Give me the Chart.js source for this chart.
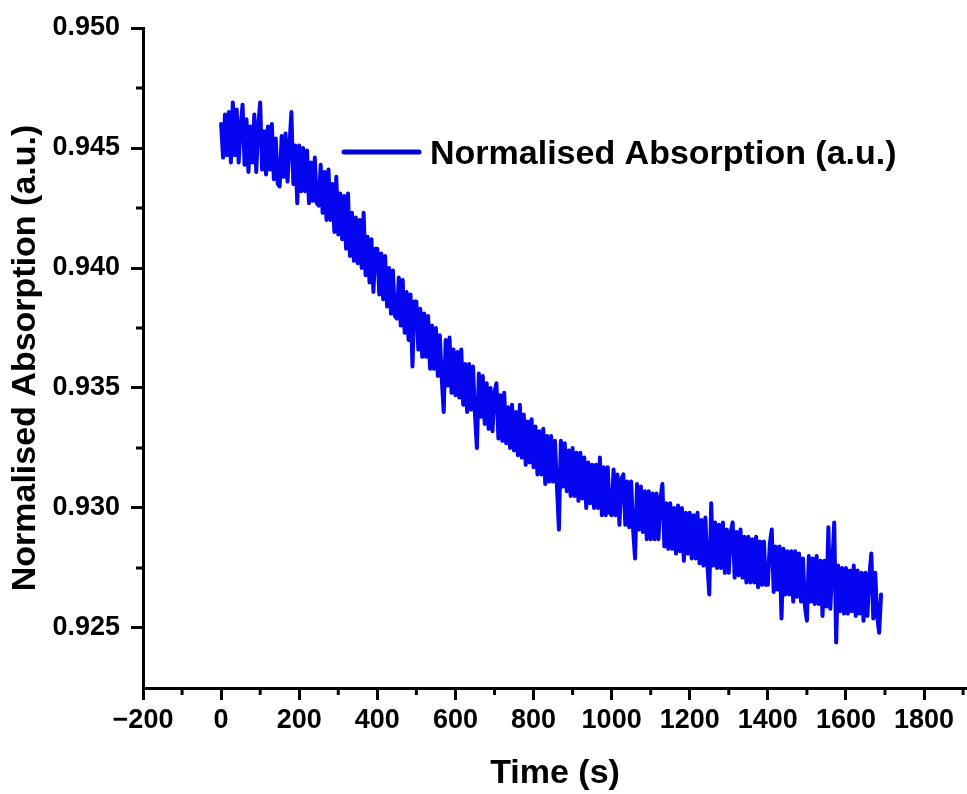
<!DOCTYPE html>
<html lang="en">
<head>
  <meta charset="UTF-8">
  <title>Normalised Absorption vs Time</title>
  <script src="https://cdn.jsdelivr.net/npm/chart.js"></script>
  <style>
    html, body { margin: 0; padding: 0; background: #fff; }
    canvas { display: block; }
  </style>
</head>
<body>
  <canvas id="absChart" width="967" height="794"></canvas>

  <script>
    // sampling interval of the trace (s), first sample at t = 0
    const timeStep = 5;

    // normalised absorption, one value per sample
    const absorption = [
      0.9460, 0.9446, 0.9464, 0.9447, 0.9465, 0.9444, 0.9469, 0.9447, 0.9466, 0.9444, // 0-45
      0.9459, 0.9468, 0.9443, 0.9462, 0.9440, 0.9459, 0.9444, 0.9464, 0.9440, 0.9459, // 50-95
      0.9469, 0.9441, 0.9457, 0.9439, 0.9459, 0.9441, 0.9460, 0.9437, 0.9454, 0.9435, // 100
      0.9434, 0.9455, 0.9438, 0.9456, 0.9436, 0.9451, 0.9465, 0.9435, 0.9451, 0.9427, // 150
      0.9451, 0.9432, 0.9450, 0.9432, 0.9449, 0.9427, 0.9444, 0.9428, 0.9446, 0.9427, // 200
      0.9426, 0.9443, 0.9423, 0.9440, 0.9420, 0.9441, 0.9420, 0.9435, 0.9415, 0.9438, // 250
      0.9414, 0.9431, 0.9412, 0.9430, 0.9408, 0.9431, 0.9405, 0.9423, 0.9403, 0.9421, // 300
      0.9402, 0.9420, 0.9400, 0.9423, 0.9397, 0.9413, 0.9394, 0.9412, 0.9390, 0.9408, // 350
      0.9408, 0.9389, 0.9406, 0.9387, 0.9405, 0.9384, 0.9400, 0.9381, 0.9399, 0.9380, // 400
      0.9379, 0.9396, 0.9376, 0.9395, 0.9373, 0.9390, 0.9370, 0.9389, 0.9359, 0.9386, // 450
      0.9386, 0.9366, 0.9383, 0.9363, 0.9381, 0.9363, 0.9380, 0.9358, 0.9376, 0.9358, // 500
      0.9375, 0.9355, 0.9372, 0.9354, 0.9340, 0.9370, 0.9351, 0.9371, 0.9348, 0.9366, // 550
      0.9347, 0.9365, 0.9346, 0.9366, 0.9343, 0.9360, 0.9340, 0.9360, 0.9341, 0.9359, // 600
      0.9339, 0.9325, 0.9356, 0.9338, 0.9355, 0.9335, 0.9352, 0.9333, 0.9350, 0.9332, // 650
      0.9348, 0.9352, 0.9329, 0.9347, 0.9328, 0.9348, 0.9327, 0.9342, 0.9325, 0.9343, // 700
      0.9324, 0.9340, 0.9322, 0.9343, 0.9321, 0.9339, 0.9318, 0.9336, 0.9319, 0.9337, // 750
      0.9317, 0.9334, 0.9314, 0.9332, 0.9314, 0.9333, 0.9310, 0.9330, 0.9311, 0.9330, // 800
      0.9311, 0.9328, 0.9309, 0.9291, 0.9328, 0.9309, 0.9327, 0.9307, 0.9324, 0.9305, // 850
      0.9325, 0.9305, 0.9323, 0.9303, 0.9323, 0.9304, 0.9321, 0.9300, 0.9319, 0.9302, // 900
      0.9318, 0.9300, 0.9318, 0.9300, 0.9321, 0.9297, 0.9317, 0.9297, 0.9317, 0.9298, // 950
      0.9297, 0.9316, 0.9297, 0.9314, 0.9293, 0.9312, 0.9314, 0.9293, 0.9311, 0.9292, // 1000
      0.9311, 0.9291, 0.9279, 0.9310, 0.9291, 0.9309, 0.9290, 0.9307, 0.9287, 0.9307, // 1050
      0.9287, 0.9306, 0.9287, 0.9306, 0.9287, 0.9304, 0.9310, 0.9284, 0.9302, 0.9283, // 1100
      0.9302, 0.9283, 0.9300, 0.9281, 0.9301, 0.9282, 0.9300, 0.9278, 0.9298, 0.9281, // 1150
      0.9298, 0.9279, 0.9297, 0.9279, 0.9298, 0.9277, 0.9295, 0.9276, 0.9296, 0.9277, // 1200
      0.9264, 0.9302, 0.9276, 0.9294, 0.9275, 0.9293, 0.9275, 0.9294, 0.9273, 0.9291, // 1250
      0.9273, 0.9290, 0.9294, 0.9271, 0.9290, 0.9272, 0.9291, 0.9271, 0.9288, 0.9269, // 1300
      0.9288, 0.9269, 0.9287, 0.9269, 0.9288, 0.9267, 0.9286, 0.9268, 0.9286, 0.9268, // 1350
      0.9268, 0.9285, 0.9291, 0.9265, 0.9284, 0.9266, 0.9284, 0.9254, 0.9283, 0.9264, // 1400
      0.9282, 0.9264, 0.9282, 0.9261, 0.9282, 0.9263, 0.9281, 0.9261, 0.9279, 0.9259, // 1450
      0.9253, 0.9280, 0.9261, 0.9279, 0.9260, 0.9280, 0.9260, 0.9278, 0.9255, 0.9278, // 1500
      0.9259, 0.9292, 0.9258, 0.9276, 0.9294, 0.9244, 0.9276, 0.9257, 0.9275, 0.9256, // 1550
      0.9275, 0.9256, 0.9274, 0.9257, 0.9276, 0.9255, 0.9274, 0.9256, 0.9273, 0.9253, // 1600
      0.9273, 0.9255, 0.9272, 0.9281, 0.9254, 0.9273, 0.9255, 0.9248, 0.9264          // 1650-1690
    ];

    // axis ticks
    const xMajorTicks = [-200, 0, 200, 400, 600, 800, 1000, 1200, 1400, 1600, 1800];
    const xMinorTicks = [-100, 100, 300, 500, 700, 900, 1100, 1300, 1500, 1700, 1900];
    const yMajorTicks = [0.925, 0.930, 0.935, 0.940, 0.945, 0.950];
    const yMinorTicks = [0.9275, 0.9325, 0.9375, 0.9425, 0.9475];

    const seriesLabel = 'Normalised Absorption (a.u.)';
    const lineColor = '#0505f0';
    const fontFamily = '"Liberation Sans", Arial, sans-serif';

    const points = absorption.map((v, i) => ({ x: i * timeStep, y: v }));

    // short minor ticks + the in-plot legend
    const extras = {
      id: 'extras',
      afterDraw(chart) {
        const { ctx, scales: { x, y } } = chart;
        ctx.save();
        ctx.strokeStyle = '#000';
        ctx.lineWidth = 3;
        xMinorTicks.forEach(v => {
          const px = x.getPixelForValue(v);
          ctx.beginPath();
          ctx.moveTo(px, x.top);
          ctx.lineTo(px, x.top + 7);
          ctx.stroke();
        });
        yMinorTicks.forEach(v => {
          const py = y.getPixelForValue(v);
          ctx.beginPath();
          ctx.moveTo(y.right, py);
          ctx.lineTo(y.right - 7, py);
          ctx.stroke();
        });

        // legend
        ctx.strokeStyle = '#0000d0';
        ctx.lineWidth = 5;
        ctx.lineCap = 'round';
        ctx.beginPath();
        ctx.moveTo(344, 152);
        ctx.lineTo(419, 152);
        ctx.stroke();
        ctx.fillStyle = '#000';
        ctx.font = 'bold 34px ' + fontFamily;
        ctx.textBaseline = 'alphabetic';
        ctx.fillText(chart.data.datasets[0].label, 430, 164);
        ctx.restore();
      }
    };

    new Chart(document.getElementById('absChart'), {
      type: 'line',
      data: {
        datasets: [{
          label: seriesLabel,
          data: points,
          borderColor: lineColor,
          borderWidth: 4,
          borderJoinStyle: 'round',
          borderCapStyle: 'round',
          pointRadius: 0,
          tension: 0,
          fill: false
        }]
      },
      options: {
        responsive: false,
        animation: false,
        layout: { padding: { top: 28, left: 0, right: 0, bottom: 0 } },
        plugins: {
          legend: { display: false },
          tooltip: { enabled: false }
        },
        scales: {
          x: {
            type: 'linear',
            min: -200,
            max: 1910,
            afterBuildTicks: s => { s.ticks = xMajorTicks.map(v => ({ value: v })); },
            afterFit: s => { s.height = 106; },
            border: { display: true, color: '#000', width: 3 },
            grid: { drawOnChartArea: false, drawTicks: true, tickLength: 12, tickWidth: 3, tickColor: '#000' },
            ticks: {
              autoSkip: false,
              maxRotation: 0,
              padding: 4,
              color: '#000',
              font: { family: fontFamily, size: 27, weight: 'bold' },
              callback: v => (v < 0 ? '\u2212' + Math.abs(v) : String(v))
            },
            title: {
              display: true,
              text: 'Time (s)',
              color: '#000',
              padding: { top: 0, bottom: 0 },
              font: { family: fontFamily, size: 34, weight: 'bold' }
            }
          },
          y: {
            min: 0.9225,
            max: 0.950,
            afterBuildTicks: s => { s.ticks = yMajorTicks.map(v => ({ value: v })); },
            afterFit: s => { s.width = 143; },
            border: { display: true, color: '#000', width: 3 },
            grid: { drawOnChartArea: false, drawTicks: true, tickLength: 12, tickWidth: 3, tickColor: '#000' },
            ticks: {
              padding: 11,
              color: '#000',
              font: { family: fontFamily, size: 27, weight: 'bold' },
              callback: v => v.toFixed(3)
            },
            title: {
              display: true,
              text: 'Normalised Absorption (a.u.)',
              color: '#000',
              padding: { top: 5, bottom: 0 },
              font: { family: fontFamily, size: 34, weight: 'bold' }
            }
          }
        }
      },
      plugins: [extras]
    });
  </script>
</body>
</html>
